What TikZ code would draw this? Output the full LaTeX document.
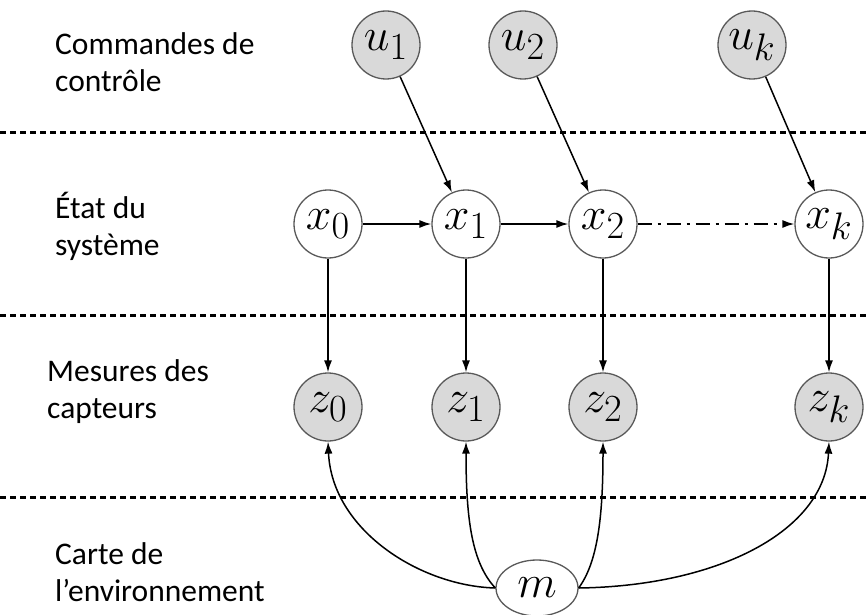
\documentclass[tikz,border=0pt]{standalone}
\usepackage{graphicx}
\usepackage{fontspec}
\setmainfont{Carlito}
\usetikzlibrary{arrows.meta,shapes.geometric}
\definecolor{nodefill}{HTML}{D9D9D9}
\definecolor{nodeline}{HTML}{595959}
\newcommand{\nodemath}[1]{\scalebox{1.85}{$#1$}}
\begin{document}
\begin{tikzpicture}[x=1pt,y=-1pt,
  gnode/.style={circle, draw=nodeline, line width=1.3pt, fill=nodefill, minimum size=68pt, inner sep=0pt, font=\fontsize{24.88}{25}\selectfont},
  wnode/.style={gnode, fill=white},
  conn/.style={-{Latex[length=12pt,width=8pt]}, line width=1.5pt},
  sep/.style={line width=3pt, dash pattern=on 6pt off 4pt},
  lab/.style={align=left, anchor=west, font=\fontsize{31.5}{37}\selectfont, inner sep=0pt}]
\useasboundingbox (0,0) rectangle (867,615);

% separators
\coordinate (s1a) at (0,133); \coordinate (s1b) at (867,133);
\coordinate (s2a) at (0,315); \coordinate (s2b) at (867,315);
\coordinate (s3a) at (0,497); \coordinate (s3b) at (867,497);
\draw[sep] (s1a) -- (s1b);
\draw[sep] (s2a) -- (s2b);
\draw[sep] (s3a) -- (s3b);

% labels
\node[lab] (l1) at (55,62) {Commandes de\\contrôle};
\node[lab] (l2) at (55,226) {État du\\système};
\node[lab] (l3) at (47,392) {Mesures des\\capteurs};
\node[lab] (l4) at (55,572) {Carte de\\l’environnement};

% nodes
\node[gnode] (u1) at (386,45) {\nodemath{u_1}};
\node[gnode] (u2) at (523,45) {\nodemath{u_2}};
\node[gnode] (uk) at (752,45) {\nodemath{u_k}};

\node[wnode] (x0) at (328,224) {\nodemath{x_0}};
\node[wnode] (x1) at (466,224) {\nodemath{x_1}};
\node[wnode] (x2) at (603,224) {\nodemath{x_2}};
\node[wnode] (xk) at (829,224) {\nodemath{x_k}};

\node[gnode] (z0) at (328,407) {\nodemath{z_0}};
\node[gnode] (z1) at (466,407) {\nodemath{z_1}};
\node[gnode] (z2) at (603,407) {\nodemath{z_2}};
\node[gnode] (zk) at (829,407) {\nodemath{z_k}};

\node[gnode, fill=white, ellipse, minimum width=82pt, minimum height=56pt] (m) at (537,588) {\nodemath{m}};

% edges
\draw[conn] (u1) -- (x1);
\draw[conn] (u2) -- (x2);
\draw[conn] (uk) -- (xk);
\draw[conn] (x0) -- (x1);
\draw[conn] (x1) -- (x2);
\draw[conn, dash pattern=on 14pt off 6pt on 3pt off 6pt] (x2) -- (xk);
\draw[conn] (x0) -- (z0);
\draw[conn] (x1) -- (z1);
\draw[conn] (x2) -- (z2);
\draw[conn] (xk) -- (zk);

\draw[conn] (m.west) .. controls (420,586) and (332,530) .. (z0.south);
\draw[conn] (m.west) .. controls (472,563) and (466,520) .. (z1.south);
\draw[conn] (m.east) .. controls (597,563) and (603,520) .. (z2.south);
\draw[conn] (m.east) .. controls (720,586) and (825,530) .. (zk.south);
\end{tikzpicture}
\end{document}
